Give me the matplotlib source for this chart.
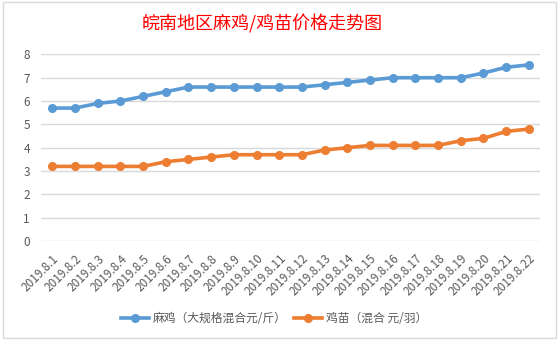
import matplotlib
matplotlib.use("Agg")
import matplotlib.pyplot as plt
from matplotlib.patches import Rectangle

plt.rcParams['font.family'] = ['Noto Sans CJK SC', 'DejaVu Sans']

dates = ["2019.8.%d" % d for d in range(1, 23)]
majiao = [5.7, 5.7, 5.9, 6.0, 6.2, 6.4, 6.6, 6.6, 6.6, 6.6, 6.6,
          6.6, 6.7, 6.8, 6.9, 7.0, 7.0, 7.0, 7.0, 7.2, 7.45, 7.55]
jimiao = [3.2, 3.2, 3.2, 3.2, 3.2, 3.4, 3.5, 3.6, 3.7, 3.7, 3.7,
          3.7, 3.9, 4.0, 4.1, 4.1, 4.1, 4.1, 4.3, 4.4, 4.7, 4.8]
series_names = ["麻鸡（大规格混合元/斤）", "鸡苗（混合 元/羽）"]
title = "皖南地区麻鸡/鸡苗价格走势图"

fig = plt.figure(figsize=(5.59, 3.40), dpi=100)
ax = fig.add_axes([0.0733, 0.291, 0.893, 0.549])

# chart frame like excel
fig.patches.append(Rectangle((0.006, 0.006), 0.988, 0.988, transform=fig.transFigure,
                             fill=False, edgecolor="#D9D9D9", linewidth=1))

x = list(range(len(dates)))
ax.plot(x, majiao, color="#5B9BD5", linewidth=2.6, marker="o", markersize=5.5,
        label=series_names[0], zorder=3)
ax.plot(x, jimiao, color="#ED7D31", linewidth=2.6, marker="o", markersize=5.5,
        label=series_names[1], zorder=3)

ax.set_xlim(-0.5, len(dates) - 0.5)
ax.set_ylim(0, 8)
ax.set_yticks(range(0, 9))
ax.grid(axis="y", color="#D9D9D9", linewidth=1)
ax.set_axisbelow(True)
for s in ax.spines.values():
    s.set_visible(False)
ax.tick_params(length=0, colors="#595959", labelsize=8.5)
ax.tick_params(axis="y", pad=8)
ax.set_xticks(x)
ax.set_xticklabels(dates, rotation=45, ha="right", rotation_mode="anchor")
ax.tick_params(axis="x", pad=8)

fig.text(0.469, 0.93, title, color="#FF0000", fontsize=13, ha="center", va="center")

fig.legend(loc="center", bbox_to_anchor=(0.49, 0.064), ncol=2, frameon=False,
           fontsize=8.5, labelcolor="#595959", handlelength=2.4, columnspacing=0.6,
           handletextpad=0.3)

fig.savefig("out.png", dpi=100)
